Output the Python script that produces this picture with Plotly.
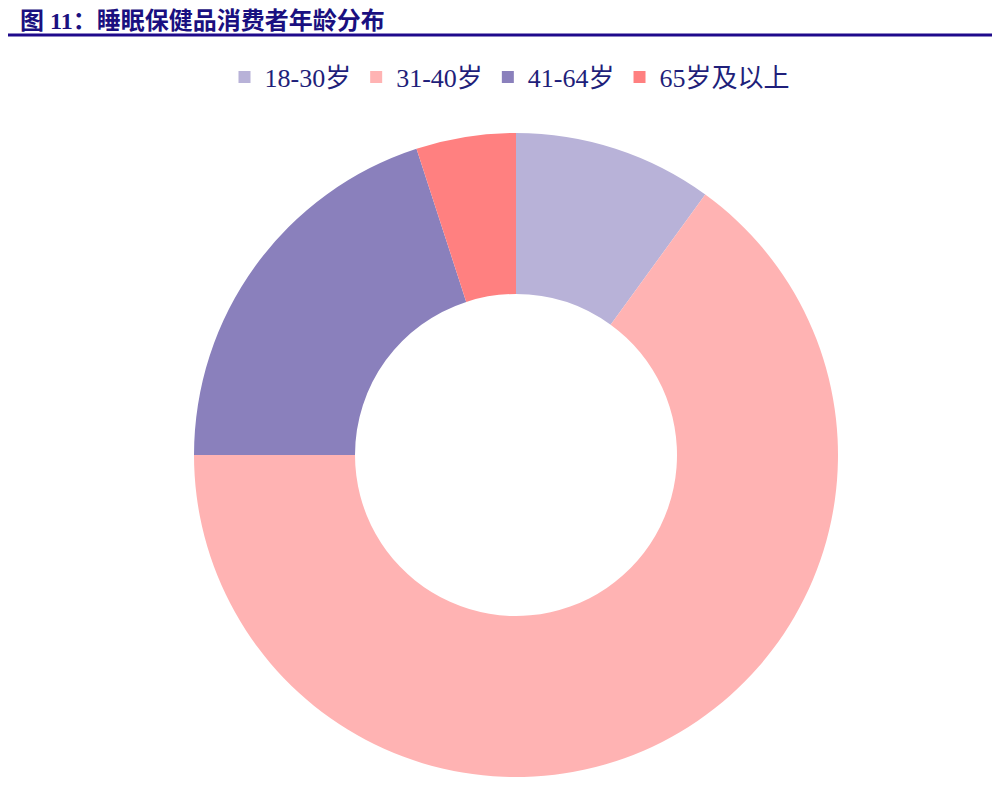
import plotly.graph_objects as go

categories = ["18-30岁", "31-40岁", "41-64岁", "65岁及以上"]
values = [10, 65, 20, 5]
colors = ["#B8B2D8", "#FFB3B3", "#8A80BC", "#FF8080"]

W, H = 1000, 795
OFF = 8  # page body margin offset

cx, cy, R = 516 - OFF, 455 - OFF, 322

fig = go.Figure(go.Pie(
    labels=categories,
    values=values,
    hole=0.5,
    sort=False,
    direction="clockwise",
    rotation=0,
    textinfo="none",
    marker=dict(colors=colors, line=dict(width=0)),
    domain=dict(x=[(cx - R) / W, (cx + R) / W], y=[1 - (cy + R) / H, 1 - (cy - R) / H]),
))

fig.update_layout(
    width=W, height=H,
    margin=dict(l=0, r=0, t=0, b=0),
    paper_bgcolor="white",
    plot_bgcolor="white",
    showlegend=True,
    legend=dict(
        orientation="h",
        x=(510 - OFF) / W, xanchor="center",
        y=1 - (77 - OFF) / H, yanchor="middle",
        font=dict(family="Liberation Serif, Noto Sans CJK SC", size=26, color="#1F1F7A"),
        itemwidth=30,
        traceorder="normal",
    ),
    annotations=[dict(
        text="<b>图 11：睡眠保健品消费者年龄分布</b>",
        x=(18 - OFF) / W, xref="paper", xanchor="left",
        y=1 - 13 / H, yref="paper", yanchor="middle",
        showarrow=False,
        font=dict(family="Liberation Serif, Noto Sans CJK SC", size=24, color="#1A1080"),
    )],
    shapes=[dict(
        type="line", xref="paper", yref="paper",
        x0=-0.02, x1=1, y0=1 - (35 - OFF) / H, y1=1 - (35 - OFF) / H,
        line=dict(color="#1F0A8C", width=3),
    )],
)

fig.write_html("out.html")
